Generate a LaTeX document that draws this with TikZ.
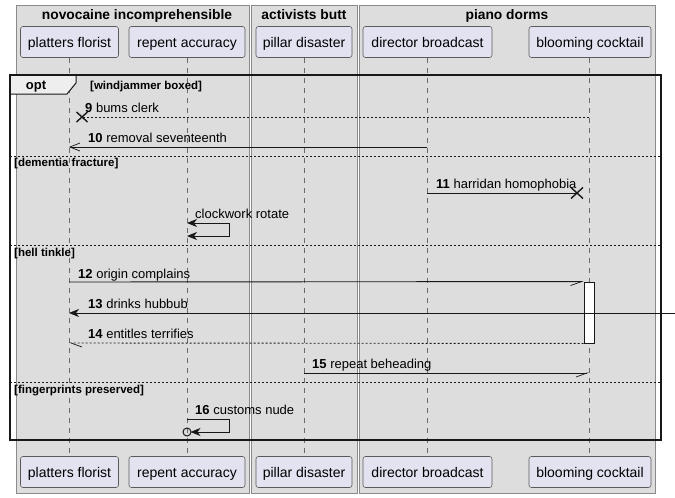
\documentclass[tikz,border=0pt]{standalone}
\usepackage{fontspec}
\setmainfont{Liberation Sans}
\usetikzlibrary{arrows.meta,calc}
\definecolor{boxbg}{HTML}{DDDDDD}
\definecolor{boxbd}{HTML}{8A8A8A}
\definecolor{partbg}{HTML}{E2E2F0}
\definecolor{partbd}{HTML}{5A5A5A}
\definecolor{tabbg}{HTML}{EEEEEE}
\definecolor{lifec}{HTML}{6A6A6A}
\definecolor{ink}{HTML}{181818}
\begin{document}
\begin{tikzpicture}[x=1pt,y=-1pt,
  grp/.style={draw=boxbd, fill=boxbg, line width=0.6pt},
  grptitle/.style={font=\bfseries\fontsize{13.8}{15}\selectfont, inner sep=0pt, anchor=base},
  part/.style={draw=partbd, fill=partbg, rounded corners=2.5pt, line width=0.6pt,
    minimum height=31pt, inner sep=0pt, text height=11pt, text depth=0pt,
    font=\fontsize{14}{16}\selectfont},
  life/.style={draw=lifec, dash pattern=on 5pt off 5pt, line width=0.6pt},
  msg/.style={draw=ink, line width=0.9pt},
  dmsg/.style={msg, dash pattern=on 2pt off 2pt},
  lbl/.style={anchor=base west, inner sep=0pt, font=\fontsize{13}{15}\selectfont},
  guardlbl/.style={anchor=base west, inner sep=0pt, font=\bfseries\fontsize{11.5}{13}\selectfont},
  altline/.style={draw=ink, dash pattern=on 2pt off 2pt, line width=0.8pt},
  fulltip/.style={-{Stealth[length=10pt,width=8pt,inset=3pt]}},
  opentip/.style={-{Straight Barb[length=10pt,width=8pt,line width=0.7pt]}},
  halfR/.style={-{Straight Barb[length=11pt,width=8pt,line width=0.7pt,right]}},
  halfL/.style={-{Straight Barb[length=11pt,width=8pt,line width=0.7pt,left]}},
  crossmark/.style={draw=ink, line width=1.4pt},
  actbox/.style={draw=ink, fill=white, line width=0.9pt, minimum width=10pt, minimum height=61pt, inner sep=0pt}
]
\useasboundingbox (0,0) rectangle (675,498);
\fill[white] (0,0) rectangle (675,498);

% group boxes
\path[grp] (16,5) rectangle (249,493);
\path[grp] (251,5) rectangle (357,493);
\path[grp] (359,5) rectangle (655,493);
\node[grptitle] (t1) at (137,19) {novocaine incomprehensible};
\node[grptitle] (t2) at (304,19) {activists butt};
\node[grptitle] (t3) at (507,19) {piano dorms};

% participants
\node[part, minimum width=98pt]  (pfT) at (69.5,42) {platters florist};
\node[part, minimum width=116pt] (raT) at (187,42) {repent accuracy};
\node[part, minimum width=96pt]  (pdT) at (304,42) {pillar disaster};
\node[part, minimum width=129pt] (dbT) at (427.5,42) {director broadcast};
\node[part, minimum width=122pt] (bcT) at (590,42) {blooming cocktail};
\node[part, minimum width=98pt]  (pfB) at (69.5,472) {platters florist};
\node[part, minimum width=116pt] (raB) at (187,472) {repent accuracy};
\node[part, minimum width=96pt]  (pdB) at (304,472) {pillar disaster};
\node[part, minimum width=129pt] (dbB) at (427.5,472) {director broadcast};
\node[part, minimum width=122pt] (bcB) at (590,472) {blooming cocktail};

% lifelines
\draw[life] (69,57.5) -- (69,456.5);
\draw[life] (187,57.5) -- (187,456.5);
\draw[life] (304,57.5) -- (304,456.5);
\draw[life] (427,57.5) -- (427,456.5);
\draw[life] (589,57.5) -- (589,456.5);

% activation
\node[actbox] (act) at (589,312.5) {};

% opt frame
\draw[draw=ink, fill=tabbg, line width=1pt] (10,75) -- (76,75) -- (76,83) -- (67,94) -- (10,94) -- cycle;
\draw[draw=ink, line width=1.5pt] (10,75) rectangle (661,440);
\node[anchor=base, inner sep=0pt, font=\bfseries\fontsize{13}{15}\selectfont] (optl) at (36,89) {opt};
\node[guardlbl] (g1) at (90,89) {[windjammer boxed]};

% separators
\draw[altline] (10,156) -- (661,156);
\draw[altline] (10,245) -- (661,245);
\draw[altline] (10,382) -- (661,382);
\node[guardlbl] (g2) at (14,166) {[dementia fracture]};
\node[guardlbl] (g3) at (14,256) {[hell tinkle]};
\node[guardlbl] (g4) at (14,393) {[fingerprints preserved]};

% message coordinates
\coordinate (m9a) at (589,117);   \coordinate (m9b) at (82,117);
\coordinate (m10a) at (427,147);  \coordinate (m10b) at (69,147);
\coordinate (m11a) at (427,193);  \coordinate (m11b) at (577,193);
\coordinate (c1a) at (187,223);   \coordinate (c1b) at (187,236);
\coordinate (m12a) at (69,282);
\coordinate (m13a) at (675,313);  \coordinate (m13b) at (69,313);
\coordinate (m14b) at (69,343);
\coordinate (m15a) at (304,373);  \coordinate (m15b) at (589,373);
\coordinate (m16a) at (187,419);  \coordinate (m16b) at (190.5,432);
\coordinate (m16o) at (187,432);

% 9
\draw[dmsg] (m9a) -- (m9b);
\draw[crossmark] ($(m9b)+(-5.5,-5)$) -- ($(m9b)+(5.5,5)$) ($(m9b)+(-5.5,5)$) -- ($(m9b)+(5.5,-5)$);
\node[lbl] (l9) at (85,112) {\textbf{9} bums clerk};
% 10
\draw[msg, opentip] (m10a) -- (m10b);
\node[lbl] (l10) at (88,142) {\textbf{10} removal seventeenth};
% 11
\draw[msg] (m11a) -- (m11b);
\draw[crossmark] ($(m11b)+(-6,-5.5)$) -- ($(m11b)+(6,5.5)$) ($(m11b)+(-6,5.5)$) -- ($(m11b)+(6,-5.5)$);
\node[lbl] (l11) at (436,188) {\textbf{11} harridan homophobia};
% clockwork rotate
\draw[msg, {Stealth[length=10pt,width=8pt,inset=3pt]}-{Stealth[length=10pt,width=8pt,inset=3pt]}] (c1a) -- ++(42,0) -- ++(0,13) -- (c1b);
\node[lbl] (lc) at (195,218) {clockwork rotate};
% 12
\draw[msg, halfR] (m12a) -- (act.north west);
\node[lbl] (l12) at (78,278) {\textbf{12} origin complains};
% 13
\draw[msg, fulltip] (m13a) -- (m13b);
\node[lbl] (l13) at (88,308) {\textbf{13} drinks hubbub};
% 14
\draw[dmsg, halfL] (act.south west) -- (m14b);
\node[lbl] (l14) at (88,338) {\textbf{14} entitles terrifies};
% 15
\draw[msg, halfR] (m15a) -- (m15b);
\node[lbl] (l15) at (312,368) {\textbf{15} repeat beheading};
% 16
\draw[msg, fulltip] (m16a) -- ++(42,0) -- ++(0,13) -- (m16b);
\draw[draw=ink, line width=1pt] (m16o) circle (4);
\node[lbl] (l16) at (195,414) {\textbf{16} customs nude};
\end{tikzpicture}
\end{document}
